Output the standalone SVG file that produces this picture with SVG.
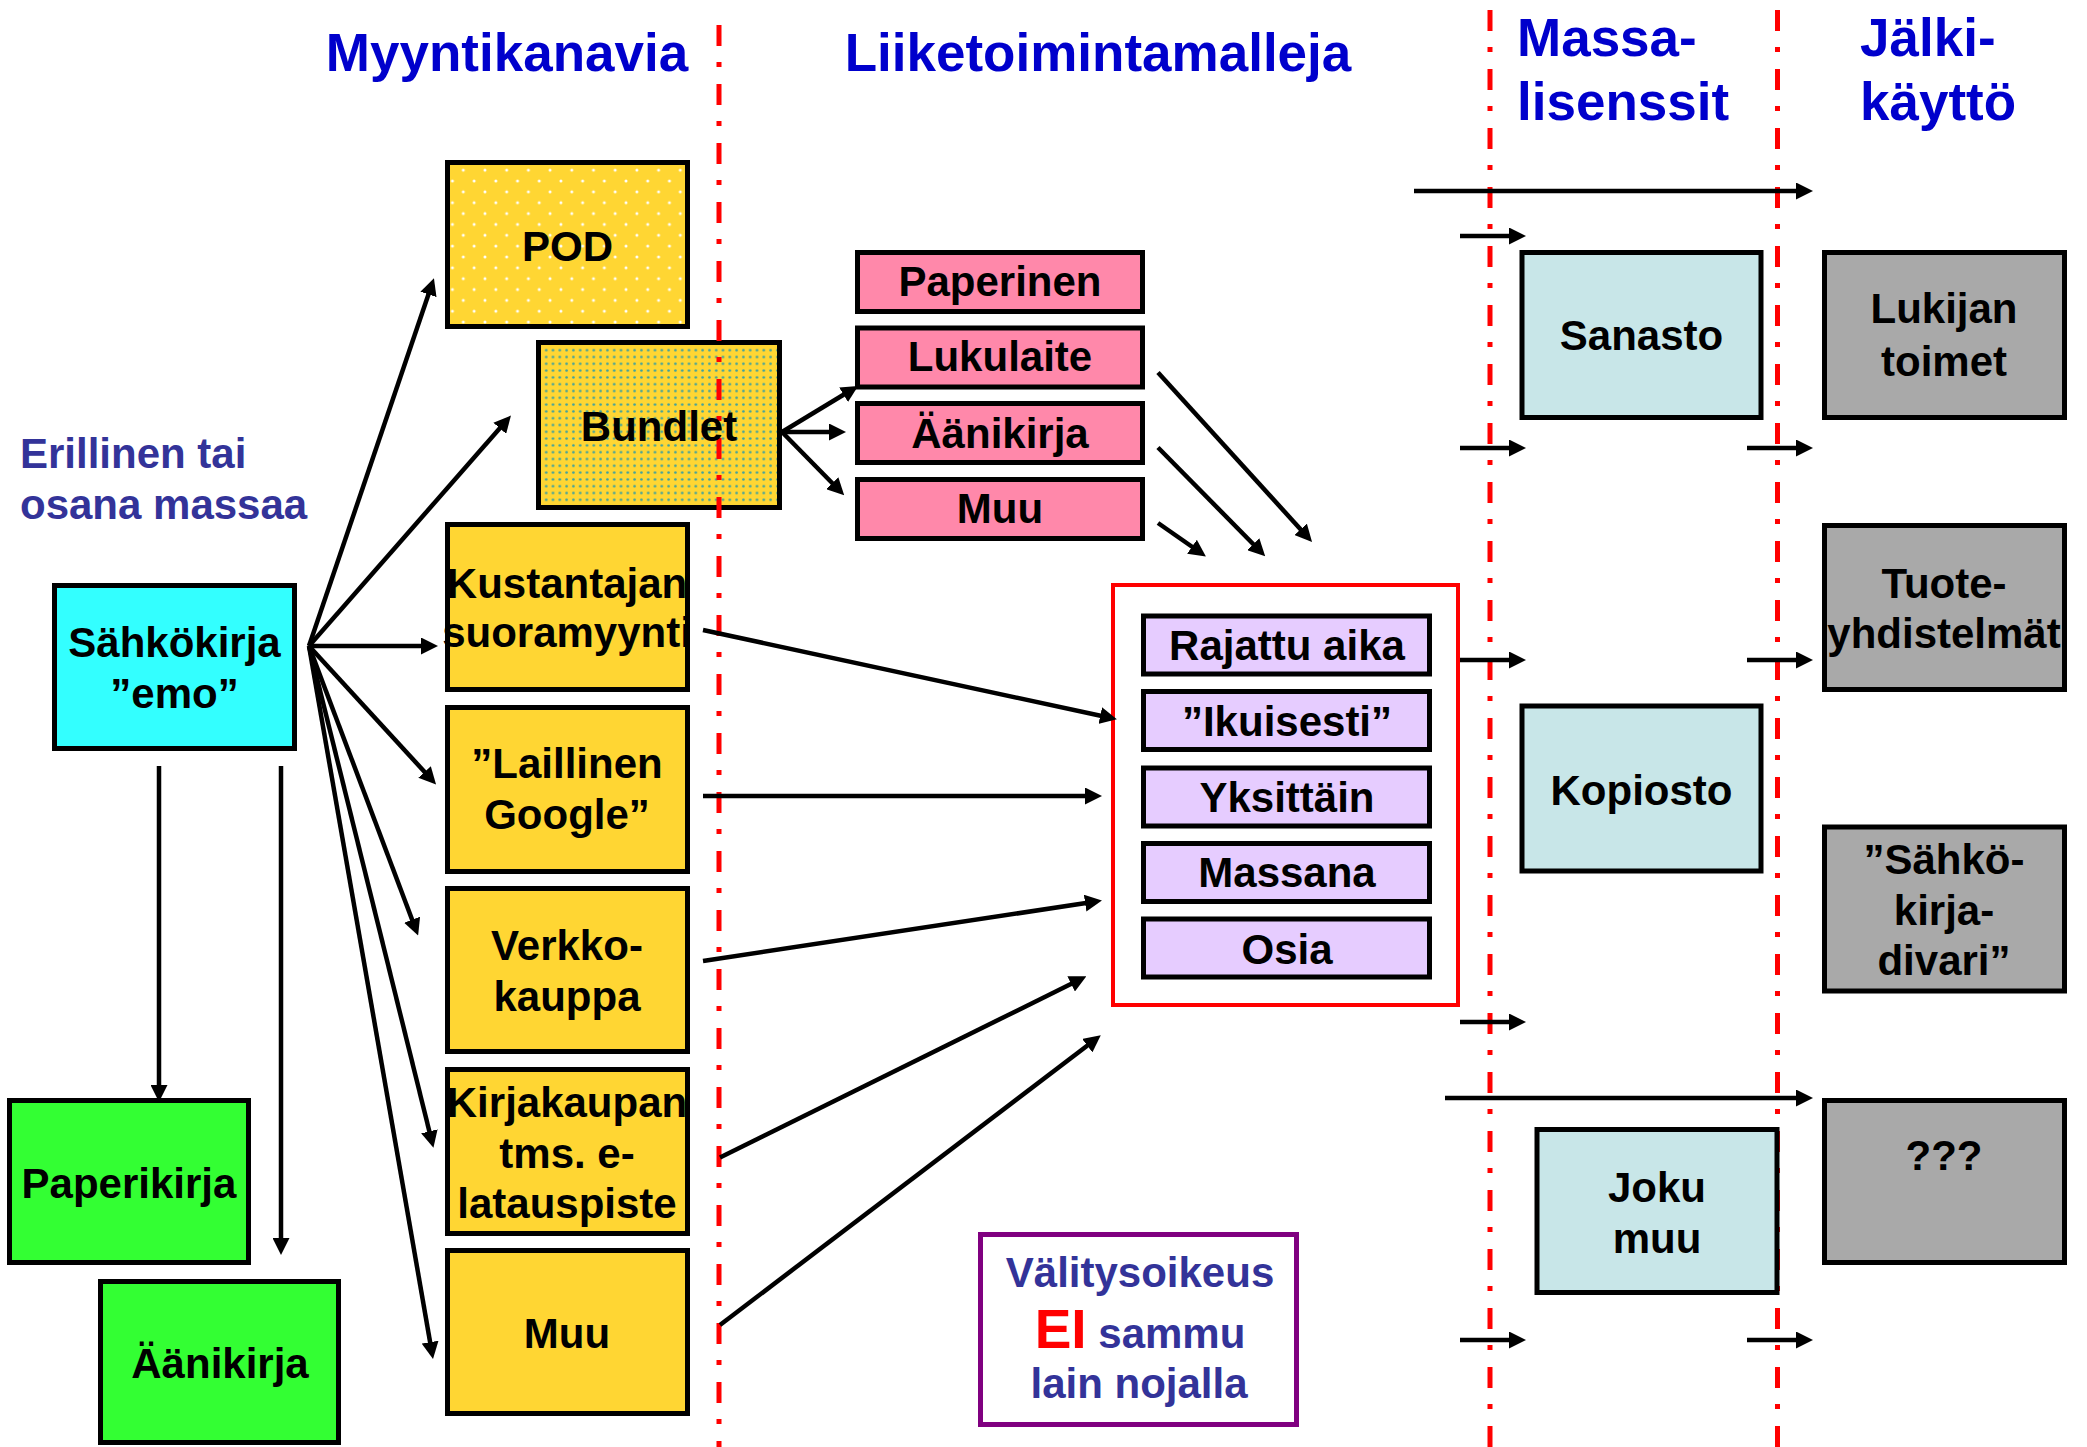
<svg xmlns="http://www.w3.org/2000/svg" width="2087" height="1447" viewBox="0 0 2087 1447">
<defs>
<style>
text{font-family:"Liberation Sans",Arial,sans-serif;font-weight:bold;}
.t{font-size:42px;fill:#000;text-anchor:middle;}
.title{font-size:53px;fill:#0000CC;}
.blue{font-size:42px;fill:#333399;}
.box{stroke:#000;stroke-width:5;}
.yel{fill:#FFD633;}
.pink{fill:#FF88AA;}
.lav{fill:#E6CCFF;stroke:#000;stroke-width:5;}
.lb{fill:#C8E6E8;}
.gray{fill:#A9A9A9;}
.arr{stroke:#000;stroke-width:4.5;fill:none;marker-end:url(#ah);}
.div{stroke:#FF0000;stroke-width:5;stroke-dasharray:21 16 5 17;fill:none;}
</style>
<marker id="ah" markerUnits="userSpaceOnUse" markerWidth="17" markerHeight="17" refX="11" refY="8.5" orient="auto">
<path d="M0,0 L17,8.5 L0,17 z" fill="#000"/>
</marker>
<pattern id="podDots" patternUnits="userSpaceOnUse" x="441.6" y="159.3" width="21.7" height="21.7">
<rect width="21.7" height="21.7" fill="#FFD633"/>
<circle cx="0" cy="10.8" r="1.5" fill="#FFFFFF"/>
<circle cx="21.7" cy="10.8" r="1.5" fill="#FFFFFF"/>
<circle cx="10.85" cy="21.7" r="1.5" fill="#FFFFFF"/>
<circle cx="10.85" cy="0" r="1.5" fill="#FFFFFF"/>
</pattern>
<pattern id="bunDots" patternUnits="userSpaceOnUse" x="536" y="340" width="6.8" height="6.8">
<rect width="6.8" height="6.8" fill="#FFD633"/>
<circle cx="3.4" cy="3.4" r="1.3" fill="#3AA0A0"/>
</pattern>
</defs>
<rect x="0" y="0" width="2087" height="1447" fill="#FFFFFF"/>

<g id="headers">
<text class="title" x="507" y="71" text-anchor="middle">Myyntikanavia</text>
<text class="title" x="1098" y="71" text-anchor="middle">Liiketoimintamalleja</text>
<text class="title" x="1517" y="56">Massa-</text>
<text class="title" x="1517" y="120">lisenssit</text>
<text class="title" x="1860" y="56">Jälki-</text>
<text class="title" x="1860" y="120">käyttö</text>
<text class="blue" x="20" y="468">Erillinen tai</text>
<text class="blue" x="20" y="519">osana massaa</text>
</g>

<g id="n-bundlet">
<rect class="box" x="538.5" y="342.5" width="241" height="165" fill="url(#bunDots)"/>
</g>

<g id="dividers">
<line class="div" x1="719" y1="25" x2="719" y2="1447"/>
<line class="div" x1="1490" y1="10" x2="1490" y2="1447"/>
<line class="div" x1="1777.5" y1="10" x2="1777.5" y2="1447"/>
</g>

<g id="n-bundlet-label">
<text class="t" x="659" y="441">Bundlet</text>
</g>

<g id="n-emo">
<rect class="box" x="54.5" y="585.5" width="240" height="163" fill="#33FFFF"/>
<text class="t" x="174.5" y="657">Sähkökirja</text>
<text class="t" x="174.5" y="708">”emo”</text>
</g>
<g id="n-paperikirja">
<rect class="box" x="9.5" y="1100.5" width="239" height="162" fill="#33FF33"/>
<text class="t" x="129" y="1198">Paperikirja</text>
</g>
<g id="n-aanikirja-green">
<rect class="box" x="100.5" y="1281.5" width="238" height="161" fill="#33FF33"/>
<text class="t" x="220" y="1378">Äänikirja</text>
</g>

<g id="n-pod">
<rect class="box" x="447.5" y="162.5" width="240" height="164" fill="url(#podDots)"/>
<text class="t" x="567.5" y="261">POD</text>
</g>
<g id="n-kustantajan">
<rect class="box yel" x="447.5" y="524.5" width="240" height="165"/>
<text class="t" x="567" y="598">Kustantajan</text>
<text class="t" x="567" y="647">suoramyynti</text>
</g>
<g id="n-laillinen">
<rect class="box yel" x="447.5" y="707.5" width="240" height="164"/>
<text class="t" x="567" y="778">”Laillinen</text>
<text class="t" x="567" y="829">Google”</text>
</g>
<g id="n-verkkokauppa">
<rect class="box yel" x="447.5" y="888.5" width="240" height="163"/>
<text class="t" x="567" y="960">Verkko-</text>
<text class="t" x="567" y="1011">kauppa</text>
</g>
<g id="n-kirjakaupan">
<rect class="box yel" x="447.5" y="1069.5" width="240" height="164"/>
<text class="t" x="567" y="1117">Kirjakaupan</text>
<text class="t" x="567" y="1168">tms. e-</text>
<text class="t" x="567" y="1218">latauspiste</text>
</g>
<g id="n-muu-yellow">
<rect class="box yel" x="447.5" y="1250.5" width="240" height="163"/>
<text class="t" x="567" y="1348">Muu</text>
</g>

<g id="n-paperinen">
<rect class="box pink" x="857.5" y="252.5" width="285" height="59"/>
<text class="t" x="1000" y="296">Paperinen</text>
</g>
<g id="n-lukulaite">
<rect class="box pink" x="857.5" y="328" width="285" height="59"/>
<text class="t" x="1000" y="371">Lukulaite</text>
</g>
<g id="n-aanikirja-pink">
<rect class="box pink" x="857.5" y="403.5" width="285" height="59"/>
<text class="t" x="1000" y="448">Äänikirja</text>
</g>
<g id="n-muu-pink">
<rect class="box pink" x="857.5" y="479.5" width="285" height="59"/>
<text class="t" x="1000" y="523">Muu</text>
</g>

<g id="n-models">
<rect x="1113" y="585" width="345" height="420" fill="#FFFFFF" stroke="#FF0000" stroke-width="4"/>
</g>
<g id="n-rajattu">
<rect class="lav" x="1143.5" y="616" width="286" height="58"/>
<text class="t" x="1287" y="660">Rajattu aika</text>
</g>
<g id="n-ikuisesti">
<rect class="lav" x="1143.5" y="691.5" width="286" height="58"/>
<text class="t" x="1287" y="735.5">”Ikuisesti”</text>
</g>
<g id="n-yksittain">
<rect class="lav" x="1143.5" y="768" width="286" height="58"/>
<text class="t" x="1287" y="812">Yksittäin</text>
</g>
<g id="n-massana">
<rect class="lav" x="1143.5" y="843.5" width="286" height="58"/>
<text class="t" x="1287" y="887">Massana</text>
</g>
<g id="n-osia">
<rect class="lav" x="1143.5" y="919" width="286" height="58"/>
<text class="t" x="1287" y="964">Osia</text>
</g>

<g id="n-sanasto">
<rect class="box lb" x="1522" y="252.5" width="239" height="165"/>
<text class="t" x="1641.5" y="350">Sanasto</text>
</g>
<g id="n-kopiosto">
<rect class="box lb" x="1522" y="706" width="239" height="165"/>
<text class="t" x="1641.5" y="805">Kopiosto</text>
</g>
<g id="n-jokumuu">
<rect class="box lb" x="1537" y="1129.5" width="240" height="163"/>
<text class="t" x="1657" y="1202">Joku</text>
<text class="t" x="1657" y="1253">muu</text>
</g>

<g id="n-lukijan">
<rect class="box gray" x="1824.5" y="252.5" width="240" height="165"/>
<text class="t" x="1944" y="323">Lukijan</text>
<text class="t" x="1944" y="376">toimet</text>
</g>
<g id="n-tuote">
<rect class="box gray" x="1824.5" y="525.5" width="240" height="164"/>
<text class="t" x="1944" y="598">Tuote-</text>
<text class="t" x="1944" y="648">yhdistelmät</text>
</g>
<g id="n-divari">
<rect class="box gray" x="1824.5" y="827" width="240" height="164"/>
<text class="t" x="1944" y="874">”Sähkö-</text>
<text class="t" x="1944" y="925">kirja-</text>
<text class="t" x="1944" y="975">divari”</text>
</g>
<g id="n-qqq">
<rect class="box gray" x="1824.5" y="1100.5" width="240" height="162"/>
<text class="t" x="1944" y="1170">???</text>
</g>

<g id="n-valitysoikeus">
<rect x="980.5" y="1234.5" width="316" height="190" fill="#FFFFFF" stroke="#800080" stroke-width="5"/>
<text class="blue" x="1140" y="1287" text-anchor="middle">Välitysoikeus</text>
<text x="1140" y="1348" text-anchor="middle" class="blue"><tspan fill="#FF0000" font-size="55">EI</tspan> sammu</text>
<text class="blue" x="1139" y="1398" text-anchor="middle">lain nojalla</text>
</g>

<g id="connectors">
<line class="arr" x1="309" y1="646" x2="432" y2="284"/>
<line class="arr" x1="309" y1="646" x2="507" y2="420"/>
<line class="arr" x1="309" y1="646" x2="432" y2="646"/>
<line class="arr" x1="309" y1="646" x2="432" y2="780"/>
<line class="arr" x1="309" y1="646" x2="416" y2="930"/>
<line class="arr" x1="309" y1="646" x2="432" y2="1142"/>
<line class="arr" x1="309" y1="646" x2="432" y2="1353"/>
<line class="arr" x1="159" y1="766" x2="159" y2="1096"/>
<line class="arr" x1="281" y1="766" x2="281" y2="1249"/>
<line class="arr" x1="782" y1="432" x2="853" y2="389"/>
<line class="arr" x1="782" y1="432" x2="840" y2="432"/>
<line class="arr" x1="782" y1="432" x2="840" y2="491"/>
<line class="arr" x1="1158" y1="372.5" x2="1308" y2="537.5"/>
<line class="arr" x1="1158" y1="447.5" x2="1261" y2="552"/>
<line class="arr" x1="1158" y1="523" x2="1201" y2="553"/>
<line class="arr" x1="703" y1="630" x2="1111" y2="718"/>
<line class="arr" x1="703" y1="796" x2="1096" y2="796"/>
<line class="arr" x1="703" y1="961" x2="1096" y2="901.5"/>
<line class="arr" x1="720" y1="1157.5" x2="1081" y2="979"/>
<line class="arr" x1="720" y1="1325" x2="1096" y2="1039"/>
<line class="arr" x1="1414" y1="191" x2="1807" y2="191"/>
<line class="arr" x1="1460" y1="236" x2="1520" y2="236"/>
<line class="arr" x1="1460" y1="448" x2="1520" y2="448"/>
<line class="arr" x1="1747" y1="448" x2="1807" y2="448"/>
<line class="arr" x1="1460" y1="660" x2="1520" y2="660"/>
<line class="arr" x1="1747" y1="660" x2="1807" y2="660"/>
<line class="arr" x1="1460" y1="1022" x2="1520" y2="1022"/>
<line class="arr" x1="1445" y1="1098" x2="1807" y2="1098"/>
<line class="arr" x1="1460" y1="1340" x2="1520" y2="1340"/>
<line class="arr" x1="1747" y1="1340" x2="1807" y2="1340"/>
</g>
</svg>
